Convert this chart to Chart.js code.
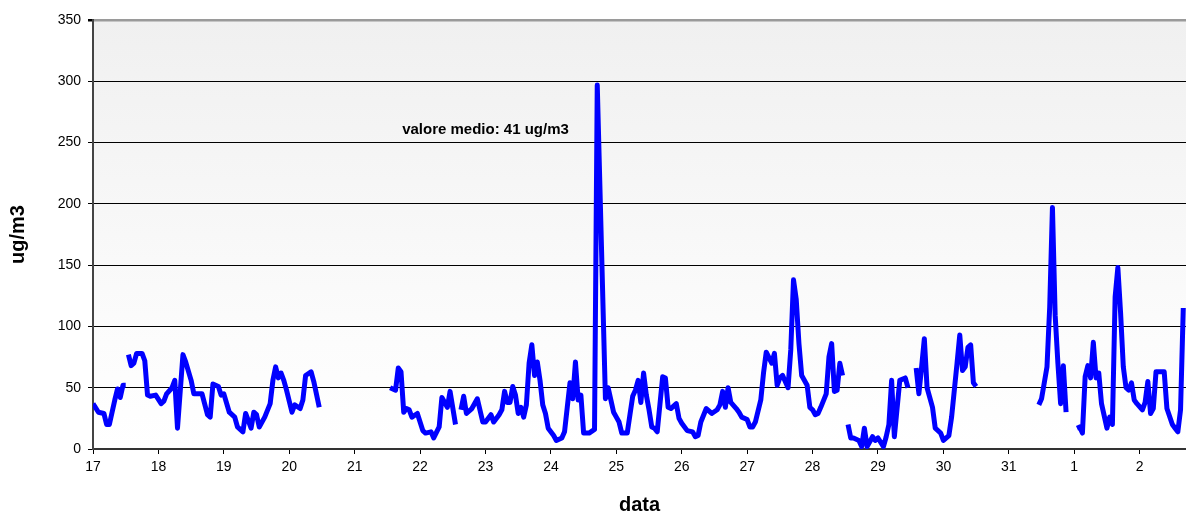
<!DOCTYPE html>
<html>
<head>
<meta charset="utf-8">
<script src="https://cdn.jsdelivr.net/npm/chart.js@4.4.1/dist/chart.umd.min.js"></script>
<style>
  html, body { margin: 0; padding: 0; background: #fff; }
  #wrap { width: 1186px; height: 513px; position: relative; }
</style>
</head>
<body>
<div id="wrap"><canvas id="chart"></canvas></div>
<script>
// ── DATA ─────────────────────────────────────────────────────
// hourly readings, hour 0 = day 17 00:00; null = break in the record
const dayLabels = ['17','18','19','20','21','22','23','24','25','26','27','28','29','30','31','1','2'];

const hours = [
  0, 2, 4, 5, 6, 8, 9, 10, 11, 12,
  12.5, 13, 14, 15, 16, 18, 19, 20, 21, 23,
  25, 26, 27, 29, 30, 31, 33, 34, 36, 37,
  40, 42, 43, 44, 46, 47, 48, 50, 52, 53,
  55, 56, 58, 59, 60, 61, 63, 65, 66, 67,
  68, 69, 70, 71, 73, 74, 76, 77, 78, 80,
  81, 83, 84, 109, 111, 112, 113, 114, 115, 116,
  117, 119, 121, 122, 124, 125, 127, 128, 130, 131,
  133, 134, 135, 136, 137, 139, 141, 143, 144, 146,
  147, 149, 150, 151, 152, 153, 154, 155, 156, 157,
  158, 159, 160, 161, 162, 163, 164, 165, 166, 167,
  169, 170, 172, 173, 174, 175, 176, 177, 178, 179,
  180, 182, 184, 185, 188, 189, 190, 191, 192, 193,
  194, 196, 197, 198, 199, 200, 201, 202, 203, 204,
  205, 206, 207, 209, 210, 211, 212, 214, 215, 216,
  218, 220, 221, 222, 223, 225, 227, 229, 230, 231,
  232, 233, 234, 236, 237, 238, 240, 241, 242, 243,
  245, 246, 247, 249, 250, 251, 252, 253, 255, 256,
  257, 258, 259, 260, 262, 263, 264, 265, 266, 267,
  269, 270, 271, 272, 273, 274, 275, 276, 277, 278,
  279, 281, 282, 283, 284, 286, 287, 288, 290, 291,
  292, 293, 294, 296, 298, 299, 300, 302, 303, 304,
  305, 306, 308, 309, 311, 312, 314, 315, 316, 317,
  318, 319, 320, 321, 322, 323, 324, 325, 347, 348,
  349, 350, 351, 352, 353, 354, 355, 356, 357, 358,
  361, 362, 363, 364, 365, 366, 367, 368, 369, 370,
  372, 373, 374, 375, 376, 377, 378, 379, 380, 381,
  382, 383, 385, 386, 387, 388, 389, 390, 393, 394,
  396, 397, 398, 399, 400
];

const values = [
  37, 30, 29, 20, 20, 40, 49, 42, 52, 52,
  null, 77, 68, 70, 78, 78, 72, 44, 43, 44,
  37, 39, 45, 50, 56, 17, 77, 71, 56, 45,
  45, 28, 26, 53, 51, 44, 45, 30, 26, 18,
  14, 29, 17, 30, 28, 18, 26, 37, 56, 67,
  58, 62, 56, 48, 30, 36, 33, 40, 60, 63,
  55, 34, null, 50, 48, 66, 63, 30, 33, 32,
  26, 29, 15, 13, 14, 9, 18, 42, 34, 47,
  20, null, 32, 43, 29, 33, 41, 22, 22, 28,
  22, 28, 32, 47, 38, 38, 51, 44, 29, 34,
  26, 36, 70, 85, 60, 71, 56, 36, 29, 17,
  11, 7, 9, 14, 34, 54, 41, 71, 40, 44,
  13, 13, 16, 297, 41, 50, 40, 30, 26, 22,
  13, 13, 28, 43, 48, 56, 38, 62, 44, 32,
  18, 17, 14, 59, 58, 34, 33, 37, 25, 21,
  15, 14, 10, 11, 22, 33, 29, 32, 36, 47,
  34, 50, 38, 33, 30, 26, 24, 18, 18, 22,
  40, 62, 79, 70, 78, 52, 58, 60, 50, 81,
  138, 122, 86, 60, 52, 34, 32, 28, 29, 34,
  45, 75, 86, 47, 48, 70, 60, null, 20, 9,
  9, 7, 2, 17, 2, 10, 7, 9, 2, 10,
  20, 56, 10, 56, 58, 50, null, 66, 45, 67,
  90, 50, 34, 17, 13, 7, 11, 26, 48, 70,
  93, 64, 67, 83, 85, 54, 51, null, 36, 41,
  54, 67, 116, 197, 109, 70, 37, 68, 30, null,
  17, 18, 13, 59, 68, 58, 87, 58, 62, 37,
  17, 26, 20, 124, 148, 111, 67, 50, 48, 54,
  40, 37, 32, 38, 55, 29, 33, 63, 63, 33,
  20, 17, 14, 32, 115
];

const yTicks = [0, 50, 100, 150, 200, 250, 300, 350];
const meanLabel = 'valore medio: 41 ug/m3';
const meanLabelAt = { x: 144, y: 260 };   // in data units

const FONT = "'Liberation Sans', Arial, sans-serif";
Chart.defaults.font.family = FONT;
Chart.defaults.color = '#000';

// ── PLUGINS ──────────────────────────────────────────────────
const plotBackground = {
  id: 'plotBackground',
  beforeDraw(chart) {
    const { ctx, chartArea: a } = chart;
    const g = ctx.createLinearGradient(0, a.top, 0, a.bottom);
    g.addColorStop(0, '#f0f0f0');
    g.addColorStop(0.75, '#fcfcfc');
    g.addColorStop(1, '#ffffff');
    ctx.save();
    ctx.fillStyle = g;
    ctx.fillRect(a.left, a.top, a.right - a.left, a.bottom - a.top);
    ctx.restore();
  }
};

const meanText = {
  id: 'meanText',
  afterDraw(chart) {
    const { ctx, scales } = chart;
    ctx.save();
    ctx.font = 'bold 15px ' + FONT;
    ctx.fillStyle = '#000';
    ctx.textAlign = 'center';
    ctx.textBaseline = 'middle';
    ctx.fillText(meanLabel, scales.x.getPixelForValue(meanLabelAt.x), scales.y.getPixelForValue(meanLabelAt.y));
    ctx.restore();
  }
};

// ── CHART ────────────────────────────────────────────────────
new Chart(document.getElementById('chart'), {
  type: 'line',
  data: {
    datasets: [{
      label: 'ug/m3',
      data: hours.map((h, i) => ({ x: h, y: values[i] })),
      borderColor: '#0000ff',
      borderWidth: 5,
      borderJoinStyle: 'round',
      pointRadius: 0,
      tension: 0,
      spanGaps: false,
    }]
  },
  options: {
    responsive: true,
    maintainAspectRatio: false,
    animation: false,
    devicePixelRatio: 1,
    layout: { padding: { top: 20, right: 0, left: 0, bottom: 0 } },
    plugins: { legend: { display: false }, tooltip: { enabled: false } },
    scales: {
      x: {
        type: 'linear',
        min: 0,
        max: 401,
        afterBuildTicks: s => { s.ticks = dayLabels.map((_, i) => ({ value: i * 24 })); },
        afterFit: s => { s.height = 64; },
        ticks: {
          callback: v => dayLabels[Math.round(v / 24)],
          font: { size: 14 },
          color: '#000',
          padding: 5,
          maxRotation: 0,
        },
        grid: { drawOnChartArea: false, drawTicks: true, tickLength: 5, color: '#000' },
        border: { color: '#333', width: 2 },
        title: {
          display: true,
          text: 'data',
          font: { size: 20, weight: 'bold', lineHeight: 0.8 },
          color: '#000',
          padding: { top: 0, bottom: 0 },
        },
      },
      y: {
        min: 0,
        max: 350,
        afterBuildTicks: s => { s.ticks = yTicks.map(v => ({ value: v })); },
        afterFit: s => { s.width = 93; },
        ticks: { font: { size: 14 }, color: '#000', padding: 7 },
        grid: {
          color: c => c.tick && c.tick.value === 350 ? '#9a9a9a' : '#000',
          lineWidth: c => c.tick && c.tick.value === 350 ? 2.5 : 1,
          tickColor: '#000',
          tickLength: 5,
        },
        border: { color: '#444', width: 2 },
        title: {
          display: true,
          text: 'ug/m3',
          font: { size: 20, weight: 'bold', lineHeight: 1 },
          color: '#000',
          padding: { top: 8, bottom: 0 },
        },
      }
    }
  },
  plugins: [plotBackground, meanText]
});
</script>
</body>
</html>
